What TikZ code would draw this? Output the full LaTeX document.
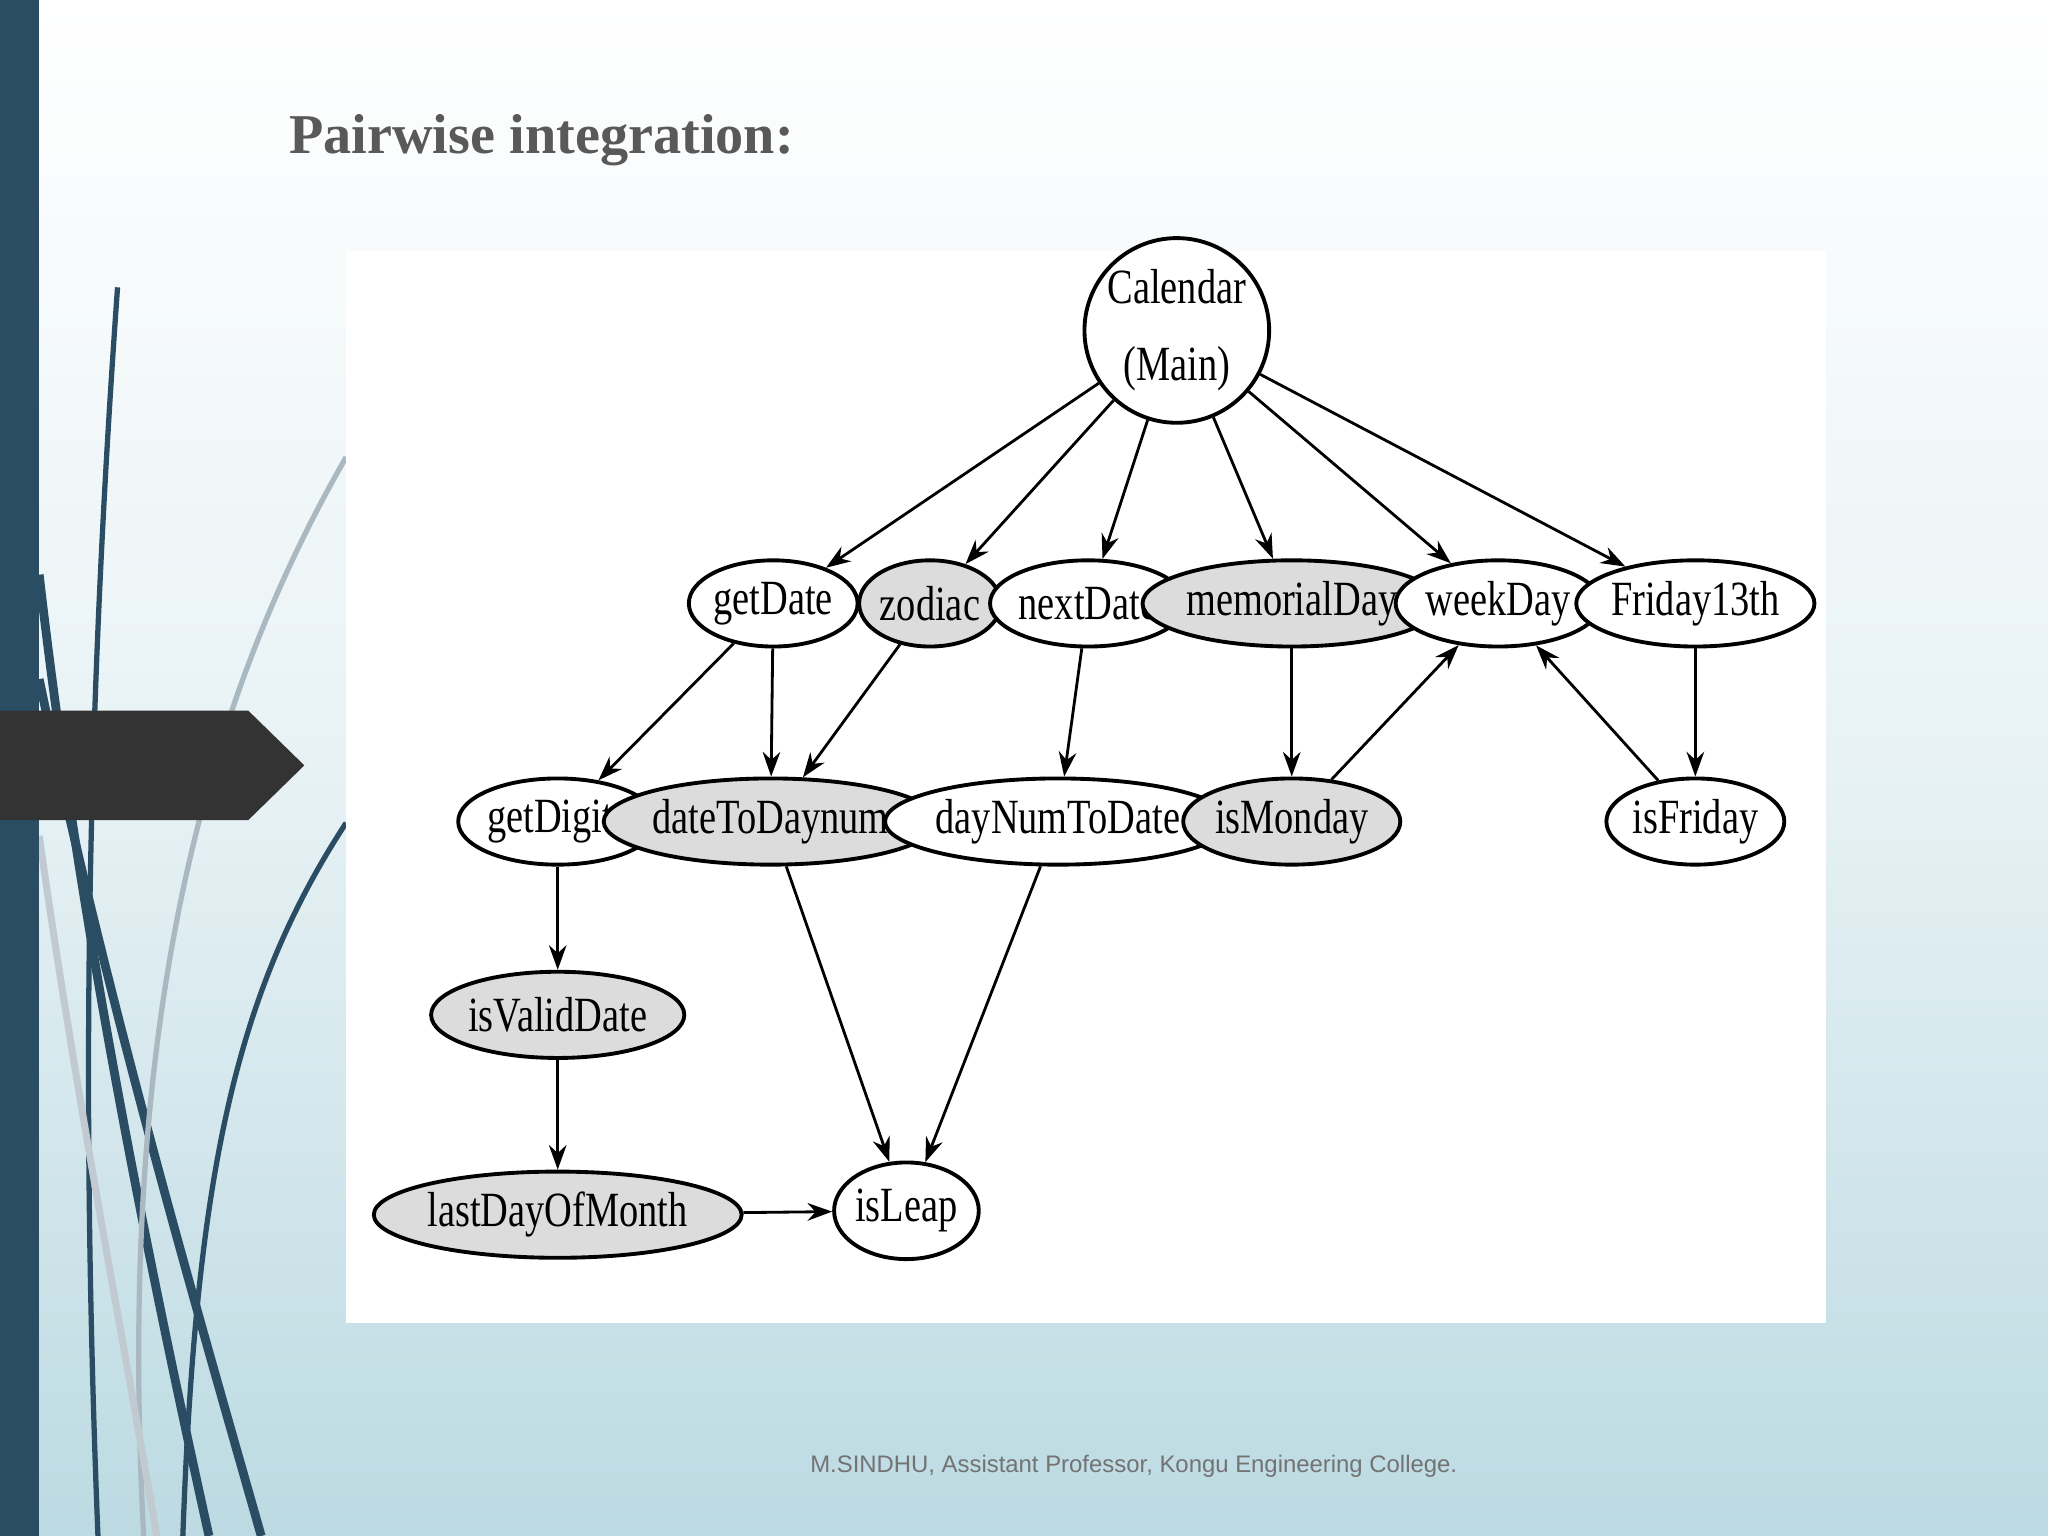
\documentclass[tikz,border=0pt]{standalone}
\usepackage{fontspec}
\setmainfont{Liberation Serif}
\newfontfamily\cond{Liberation Serif}[FakeStretch=0.78]
\newfontfamily\sans{Liberation Sans}
\usetikzlibrary{shapes.geometric,arrows.meta}
\newlength\pxu \setlength\pxu{0.013061cm}
\definecolor{bar}{HTML}{2B4D63}
\definecolor{bgb}{HTML}{BCDAE2}
\definecolor{gfill}{HTML}{DCDCDC}
\begin{document}
\begin{tikzpicture}[x=0.013061cm,y=-0.013061cm,
  nd/.style={ellipse,draw=black,line width=1.1pt,inner sep=0pt,minimum height=66\pxu,font=\cond\fontsize{14}{16}\selectfont,fill=white},
  gr/.style={nd,fill=gfill},
  ar/.style={line width=0.8pt,-{Stealth[length=7pt,width=5pt]}}]
\useasboundingbox (0,0) rectangle (1568,1176);
\shade[top color=white,bottom color=bgb,middle color=bgb!35] (0,0) rectangle (1568,1176);
% decorative curves
\draw[bar,line width=1.5pt] (90,220) .. controls (70,500) and (60,800) .. (75,1176);
\draw[bar,line width=2.5pt] (30,440) .. controls (60,700) and (110,950) .. (160,1176);
\draw[bar,line width=2.5pt] (30,520) .. controls (80,760) and (150,1000) .. (200,1176);
\draw[bar!40,line width=1.5pt] (265,350) .. controls (150,550) and (90,800) .. (110,1176);
\draw[bar!30,line width=2pt] (30,640) .. controls (60,850) and (90,1000) .. (120,1176);
\draw[bar,line width=1.5pt] (265,630) .. controls (180,760) and (150,900) .. (140,1176);
\fill[bar] (0,0) rectangle (30,1176);
\fill[black!80] (0,544) -- (190,544) -- (233,586) -- (190,628) -- (0,628) -- cycle;
\node[anchor=west,font=\bfseries\fontsize{16}{18}\selectfont,text=black!65] at (212,107) {Pairwise integration:};
\node[font=\sans\fontsize{6.8}{8}\selectfont,text=black!55] at (868,1123) {M.SINDHU, Assistant Professor, Kongu Engineering College.};
\fill[white] (265,192) rectangle (1398,1013);
% nodes
\node[nd,circle,minimum size=128\pxu,align=center,font=\cond\fontsize{14}{22}\selectfont] (cal) at (901,253) {Calendar\\(Main)};
\node[nd,minimum width=104\pxu] (gd) at (592,462) {getDate};
\node[gr,minimum width=96\pxu] (zo) at (712,462) {zodiac};
\node[nd,minimum width=112\pxu] (nd) at (833,462) {nextDate};
\node[gr,minimum width=160\pxu] (md) at (989,462) {memorialDay};
\node[nd,minimum width=122\pxu] (wd) at (1147,462) {weekDay};
\node[nd,minimum width=144\pxu] (f13) at (1298,462) {Friday13th};
\node[nd,minimum width=110\pxu] (gdi) at (427,629) {getDigits};
\node[gr,minimum width=176\pxu] (dtd) at (590,629) {dateToDaynum};
\node[nd,minimum width=204\pxu] (dnd) at (810,629) {dayNumToDate};
\node[gr,minimum width=120\pxu] (im) at (989,629) {isMonday};
\node[nd,minimum width=116\pxu] (if) at (1298,629) {isFriday};
\node[gr,minimum width=140\pxu] (ivd) at (427,777) {isValidDate};
\node[gr,minimum width=192\pxu] (ldm) at (427,930) {lastDayOfMonth};
\node[nd,minimum width=84\pxu,minimum height=74\pxu] (il) at (694,927) {isLeap};
% edges
\foreach \t in {gd,zo,nd,md,wd,f13} \draw[ar] (cal) -- (\t);
\draw[ar] (gd) -- (gdi);
\draw[ar] (gd) -- (dtd);
\draw[ar] (zo) -- (dtd);
\draw[ar] (nd) -- (dnd);
\draw[ar] (md) -- (im);
\draw[ar] (im) -- (wd);
\draw[ar] (if) -- (wd);
\draw[ar] (f13) -- (if);
\draw[ar] (gdi) -- (ivd);
\draw[ar] (ivd) -- (ldm);
\draw[ar] (ldm) -- (il);
\draw[ar] (dtd) -- (il);
\draw[ar] (dnd) -- (il);
\end{tikzpicture}
\end{document}
